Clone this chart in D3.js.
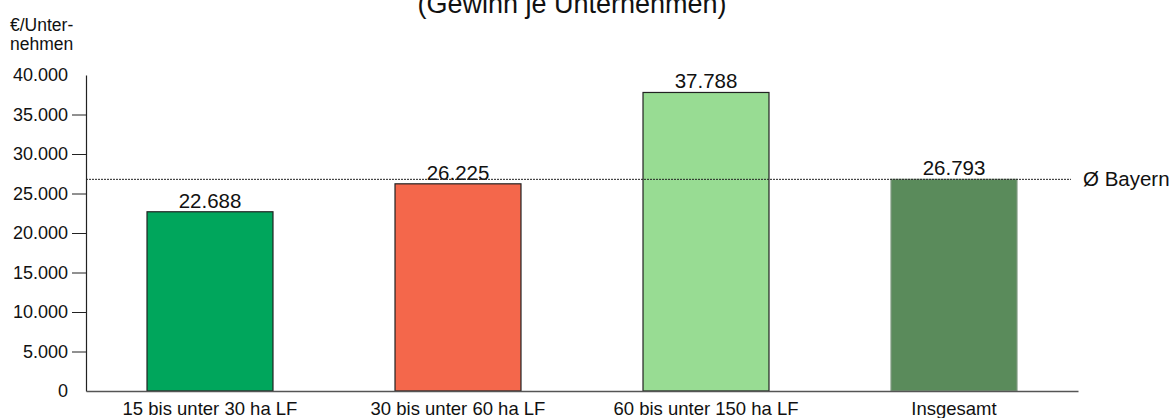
<!DOCTYPE html>
<html>
<head>
<meta charset="utf-8">
<script src="https://cdn.jsdelivr.net/npm/d3@7"></script>
<style>
  body { margin: 0; background: #fff; }
  svg { font-family: "Liberation Sans", Arial, sans-serif; }
</style>
</head>
<body>
<svg id="chart" width="1171" height="418"></svg>
<script>
// categories and values
var categories = ['15 bis unter 30 ha LF', '30 bis unter 60 ha LF', '60 bis unter 150 ha LF', 'Insgesamt'];
var values = [22688, 26225, 37788, 26793];
var colors = ['#00a65c', '#f4674b', '#98dc93', '#5a8b5b'];
var yTicks = [0, 5000, 10000, 15000, 20000, 25000, 30000, 35000, 40000];
var avgBayern = 26793;

var svg = d3.select('#chart');
var plotLeft = 86, plotRight = 1078, plotTop = 75, plotBottom = 391;
var font = '"Liberation Sans", Arial, sans-serif';

var x = d3.scaleBand().domain(categories).range([plotLeft, plotRight]).paddingInner(0.492).paddingOuter(0.246);
var y = d3.scaleLinear().domain([0, 40000]).range([plotBottom, plotTop]);

// german thousands separator
var fmt = function (d) { return d3.format(',')(d).replace(/,/g, '.'); };

// title (cut at the top)
svg.append('text').attr('x', 572).attr('y', 13).attr('text-anchor', 'middle')
  .attr('font-size', 27).attr('fill', '#111').text('(Gewinn je Unternehmen)');

// y unit label
svg.append('text').attr('x', 10).attr('y', 31).attr('font-size', 17.5).attr('fill', '#111').text('€/Unter-');
svg.append('text').attr('x', 10).attr('y', 50).attr('font-size', 17.5).attr('fill', '#111').text('nehmen');

// y axis
var yAxis = d3.axisLeft(y).tickValues(yTicks).tickSize(14).tickSizeOuter(0).tickFormat(fmt);
var gy = svg.append('g').attr('transform', 'translate(' + plotLeft + ',0)').call(yAxis);
gy.select('.domain').attr('stroke', '#222').attr('stroke-width', 1.2);
gy.selectAll('.tick line').attr('stroke', '#222')
  .filter(function (d) { return d === 40000 || d === 0; }).remove();
gy.selectAll('.tick text').attr('font-size', 18).attr('fill', '#111').attr('x', -18)
  .attr('font-family', font);

// bars
svg.selectAll('rect.bar').data(values).enter().append('rect')
  .attr('class', 'bar')
  .attr('x', function (d, i) { return x(categories[i]); })
  .attr('y', function (d) { return y(d); })
  .attr('width', x.bandwidth())
  .attr('height', function (d) { return y(0) - y(d); })
  .attr('fill', function (d, i) { return colors[i]; })
  .attr('stroke', function (d, i) { return i === 3 ? '#7f9a80' : '#222'; })
  .attr('stroke-width', 1.2);

// value labels
svg.selectAll('text.val').data(values).enter().append('text')
  .attr('class', 'val')
  .attr('x', function (d, i) { return x(categories[i]) + x.bandwidth() / 2; })
  .attr('y', function (d) { return y(d) - 4; })
  .attr('text-anchor', 'middle').attr('font-size', 20.5).attr('fill', '#111')
  .text(fmt);

// x axis
var xAxis = d3.axisBottom(x).tickSize(0).tickSizeOuter(0);
var gx = svg.append('g').attr('transform', 'translate(0,' + plotBottom + ')').call(xAxis);
gx.select('.domain').attr('stroke', '#555').attr('stroke-width', 1.6);
gx.selectAll('.tick text').attr('font-size', 18.5).attr('fill', '#111').attr('dy', 0).attr('y', 24)
  .attr('font-family', font);

// average line
svg.append('line').attr('x1', plotLeft).attr('x2', 1071)
  .attr('y1', y(avgBayern)).attr('y2', y(avgBayern))
  .attr('stroke', '#222').attr('stroke-width', 1).attr('stroke-dasharray', '2,1');
svg.append('text').attr('x', 1083).attr('y', y(avgBayern) + 7)
  .attr('font-size', 20.5).attr('fill', '#111').text('Ø Bayern');
</script>
</body>
</html>
